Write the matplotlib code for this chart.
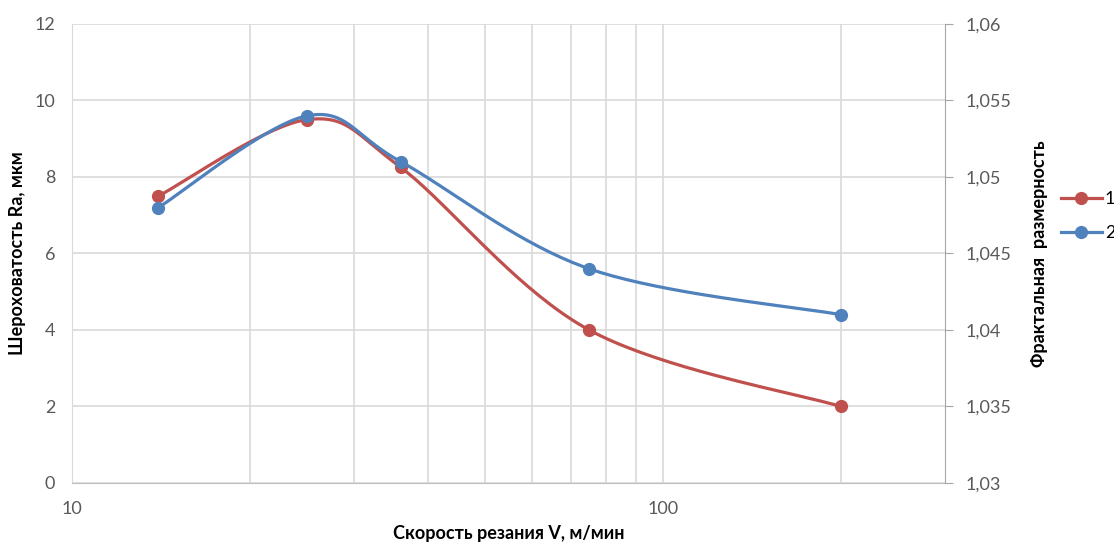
import numpy as np
import matplotlib.pyplot as plt
from matplotlib.ticker import FixedLocator, FuncFormatter, NullFormatter

plt.rcParams['font.family'] = ['Lato', 'DejaVu Sans']

# скорость резания, м/мин
v = [14, 25, 36, 75, 200]
# 1 - шероховатость Ra, мкм (левая ось)
ra = [7.5, 9.5, 8.25, 4.0, 2.0]
# 2 - фрактальная размерность (правая ось)
fd = [1.048, 1.054, 1.051, 1.044, 1.041]

series_names = ['1', '2']
c_red = '#C0504D'
c_blue = '#4F81BD'
grid_c = '#D9D9D9'
tick_c = '#595959'

X0, X1 = 10, 300
Y0, Y1 = 0, 12
F0, F1 = 1.03, 1.06

fig = plt.figure(figsize=(11.14, 5.45), dpi=100)
ax = fig.add_axes([0.0646, 0.1138, 0.7837, 0.8422])
ax2 = ax.twinx()
W_PX = 0.7837 * 1114
H_PX = 0.8422 * 545


def smooth(xs, ys, y0, y1, n=40):
    # сглаживание как в Excel: Catmull-Rom в координатах графика
    u = (np.log10(xs) - np.log10(X0)) / (np.log10(X1) - np.log10(X0)) * W_PX
    w = (np.asarray(ys) - y0) / (y1 - y0) * H_PX
    p = np.column_stack([u, w])
    p = np.vstack([p[0], p, p[-1]])
    out = []
    t = np.linspace(0, 1, n)[:, None]
    for i in range(1, len(p) - 2):
        p0, pa, pb, p3 = p[i - 1], p[i], p[i + 1], p[i + 2]
        c1 = pa + (pb - p0) / 6
        c2 = pb - (p3 - pa) / 6
        seg = ((1 - t) ** 3) * pa + 3 * ((1 - t) ** 2) * t * c1 \
            + 3 * (1 - t) * t ** 2 * c2 + t ** 3 * pb
        out.append(seg)
    out = np.vstack(out)
    sx = 10 ** (out[:, 0] / W_PX * (np.log10(X1) - np.log10(X0)) + np.log10(X0))
    sy = out[:, 1] / H_PX * (y1 - y0) + y0
    return sx, sy


sx, sy = smooth(v, ra, Y0, Y1)
ax.plot(sx, sy, color=c_red, lw=2.3, zorder=3)
ax.plot(v, ra, 'o', color=c_red, ms=8.5, zorder=4)

sx, sy = smooth(v, fd, F0, F1)
ax2.plot(sx, sy, color=c_blue, lw=2.3, zorder=3)
ax2.plot(v, fd, 'o', color=c_blue, ms=8.5, zorder=4)

ax.set_xscale('log')
ax.set_xlim(X0, X1)
ax.set_ylim(Y0, Y1)
ax2.set_ylim(F0, F1)

ax.xaxis.set_major_locator(FixedLocator([10, 100]))
ax.xaxis.set_minor_locator(FixedLocator([20, 30, 40, 50, 60, 70, 80, 90, 200]))
ax.xaxis.set_minor_formatter(NullFormatter())
ax.xaxis.set_major_formatter(FuncFormatter(lambda x, p: f'{x:g}'))
ax.set_yticks(np.arange(0, 13, 2))
ax2.set_yticks(np.arange(F0, F1 + 1e-9, 0.005))
ax2.yaxis.set_major_formatter(
    FuncFormatter(lambda y, p: f'{y:.3f}'.rstrip('0').replace('.', ',')))

ax.grid(True, which='both', axis='x', color=grid_c, lw=1.2)
ax.grid(True, which='major', axis='y', color=grid_c, lw=1.2)
ax.set_axisbelow(True)

for s in ['top']:
    ax.spines[s].set_visible(False)
    ax2.spines[s].set_visible(False)
ax.spines['left'].set_color(grid_c)
ax.spines['bottom'].set_color('#BFBFBF')
ax.spines['right'].set_visible(False)
ax2.spines['left'].set_visible(False)
ax2.spines['bottom'].set_visible(False)
ax2.spines['right'].set_color('#A6A6A6')

ax.tick_params(axis='both', which='both', length=0, labelsize=13,
               labelcolor=tick_c, pad=13)
ax.tick_params(axis='y', pad=12)
ax2.tick_params(axis='y', length=6, color='#A6A6A6', labelsize=13,
                labelcolor=tick_c, pad=9)

ax.set_xlabel('Скорость резания V, м/мин', fontsize=13, fontweight='bold',
              labelpad=6)
ax.set_ylabel('Шероховатость Ra, мкм', fontsize=13, fontweight='bold',
              labelpad=6)
ax2.set_ylabel('Фрактальная  размерность', fontsize=13, fontweight='bold',
               labelpad=14)

handles = [
    plt.Line2D([], [], color=c_red, lw=2.3, marker='o', ms=8.5),
    plt.Line2D([], [], color=c_blue, lw=2.3, marker='o', ms=8.5),
]
fig.legend(handles, series_names, loc='center left',
           bbox_to_anchor=(0.952, 0.603), frameon=False, fontsize=13,
           handlelength=2.3, handletextpad=0.15, labelspacing=1.0,
           borderaxespad=0, borderpad=0)

fig.savefig('out.png', dpi=100)
